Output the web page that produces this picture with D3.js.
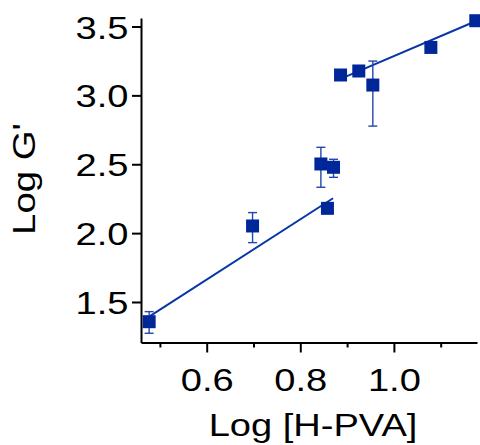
<!DOCTYPE html>
<html>
<head>
<meta charset="utf-8">
<script src="https://cdn.jsdelivr.net/npm/d3@7"></script>
<style>
  html, body { margin: 0; padding: 0; background: #fff; }
  svg { display: block; }
  text { font-family: "Liberation Sans", Arial, sans-serif; fill: #000; }
</style>
</head>
<body>
<script>
// ---- data ----
const logPVA   = [0.477, 0.698, 0.844, 0.858, 0.871, 0.886, 0.925, 0.955, 1.079, 1.175];
const logG     = [1.357, 2.052, 2.502, 2.180, 2.478, 3.148, 3.177, 3.075, 3.348, 3.542];
const errUp    = [0.073, 0.097, 0.121, 0.000, 0.058, 0.000, 0.000, 0.174, 0.000, 0.000];
const errDown  = [0.084, 0.121, 0.169, 0.000, 0.073, 0.000, 0.000, 0.298, 0.000, 0.000];
const fitLowX  = [0.477, 0.870];
const fitLowY  = [1.394, 2.253];
const fitHighX = [0.886, 1.177];
const fitHighY = [3.120, 3.542];
const yTicks   = [1.5, 2.0, 2.5, 3.0, 3.5];
const xMajor   = [0.6, 0.8, 1.0];
const xMinor   = [0.5, 0.7, 0.9, 1.1];

const W = 480, H = 445;
const blue = "#00279A";
const lineBlue = "#0A35A6";
const SX = 1.19; // horizontal stretch of the lettering in the reference

const svg = d3.select("body").append("svg").attr("width", W).attr("height", H);

const x = d3.scaleLinear().domain([0.4596, 1.1776]).range([141, 477]);
const y = d3.scaleLinear().domain([1.206, 3.5617]).range([342.5, 18]);

// ---- axes ----
const yAxis = d3.axisLeft(y).tickValues(yTicks).tickSize(9).tickSizeOuter(0)
  .tickPadding(0).tickFormat(d3.format(".1f"));
const gy = svg.append("g").attr("transform", "translate(141,0)").call(yAxis);
gy.select(".domain").attr("stroke", "#000").attr("stroke-width", 2);
gy.selectAll(".tick line").attr("stroke", "#000").attr("stroke-width", 2);
gy.selectAll(".tick text")
  .attr("x", -12.5 / SX).attr("dy", "0.36em")
  .attr("transform", `scale(${SX},1)`)
  .style("font-size", "32px").attr("fill", "#000");

const xAxisMinor = d3.axisBottom(x).tickValues(xMinor).tickSize(5).tickSizeOuter(0).tickFormat("");
const gxm = svg.append("g").attr("transform", "translate(0,342.5)").call(xAxisMinor);
gxm.select(".domain").remove();
gxm.selectAll(".tick line").attr("stroke", "#000").attr("stroke-width", 2);

const xAxis = d3.axisBottom(x).tickValues(xMajor).tickSize(10).tickSizeOuter(0)
  .tickPadding(0).tickFormat(d3.format(".1f"));
const gx = svg.append("g").attr("transform", "translate(0,342.5)").call(xAxis);
gx.select(".domain").attr("stroke", "#000").attr("stroke-width", 2);
gx.selectAll(".tick line").attr("stroke", "#000").attr("stroke-width", 2);
gx.selectAll(".tick text")
  .attr("y", 48.5).attr("dy", 0)
  .attr("transform", `scale(${SX},1)`)
  .style("font-size", "32px").attr("fill", "#000");

// ---- axis titles ----
svg.append("text")
  .attr("transform", `translate(313,436) scale(${SX},1)`)
  .attr("text-anchor", "middle")
  .style("font-size", "32px")
  .text("Log [H-PVA]");

svg.append("text")
  .attr("transform", `translate(35,179) rotate(-90) scale(1.2,1)`)
  .attr("text-anchor", "middle")
  .style("font-size", "32px")
  .text("Log G'");

// ---- fit lines ----
const lineGen = d3.line().x(d => x(d[0])).y(d => y(d[1]));
svg.append("path")
  .attr("d", lineGen(d3.zip(fitLowX, fitLowY)))
  .attr("fill", "none").attr("stroke", lineBlue).attr("stroke-width", 2);
svg.append("path")
  .attr("d", lineGen(d3.zip(fitHighX, fitHighY)))
  .attr("fill", "none").attr("stroke", lineBlue).attr("stroke-width", 2);

// ---- error bars ----
const pts = logPVA.map((v, i) => ({ x: v, y: logG[i], up: errUp[i], dn: errDown[i] }));
const eb = svg.append("g").attr("stroke", "#2446AE").attr("stroke-width", 1.4).attr("fill", "none");
pts.filter(d => d.up > 0 || d.dn > 0).forEach(d => {
  const cx = x(d.x);
  const y1 = y(d.y + d.up), y2 = y(d.y - d.dn);
  eb.append("line").attr("x1", cx).attr("x2", cx).attr("y1", y1).attr("y2", y2);
  eb.append("line").attr("x1", cx - 4.5).attr("x2", cx + 4.5).attr("y1", y1).attr("y2", y1);
  eb.append("line").attr("x1", cx - 4.5).attr("x2", cx + 4.5).attr("y1", y2).attr("y2", y2);
});

// ---- markers ----
const S = 13;
svg.append("g").selectAll("rect").data(pts).join("rect")
  .attr("x", d => x(d.x) - S / 2)
  .attr("y", d => y(d.y) - S / 2)
  .attr("width", S).attr("height", S)
  .attr("fill", blue);
</script>
</body>
</html>
